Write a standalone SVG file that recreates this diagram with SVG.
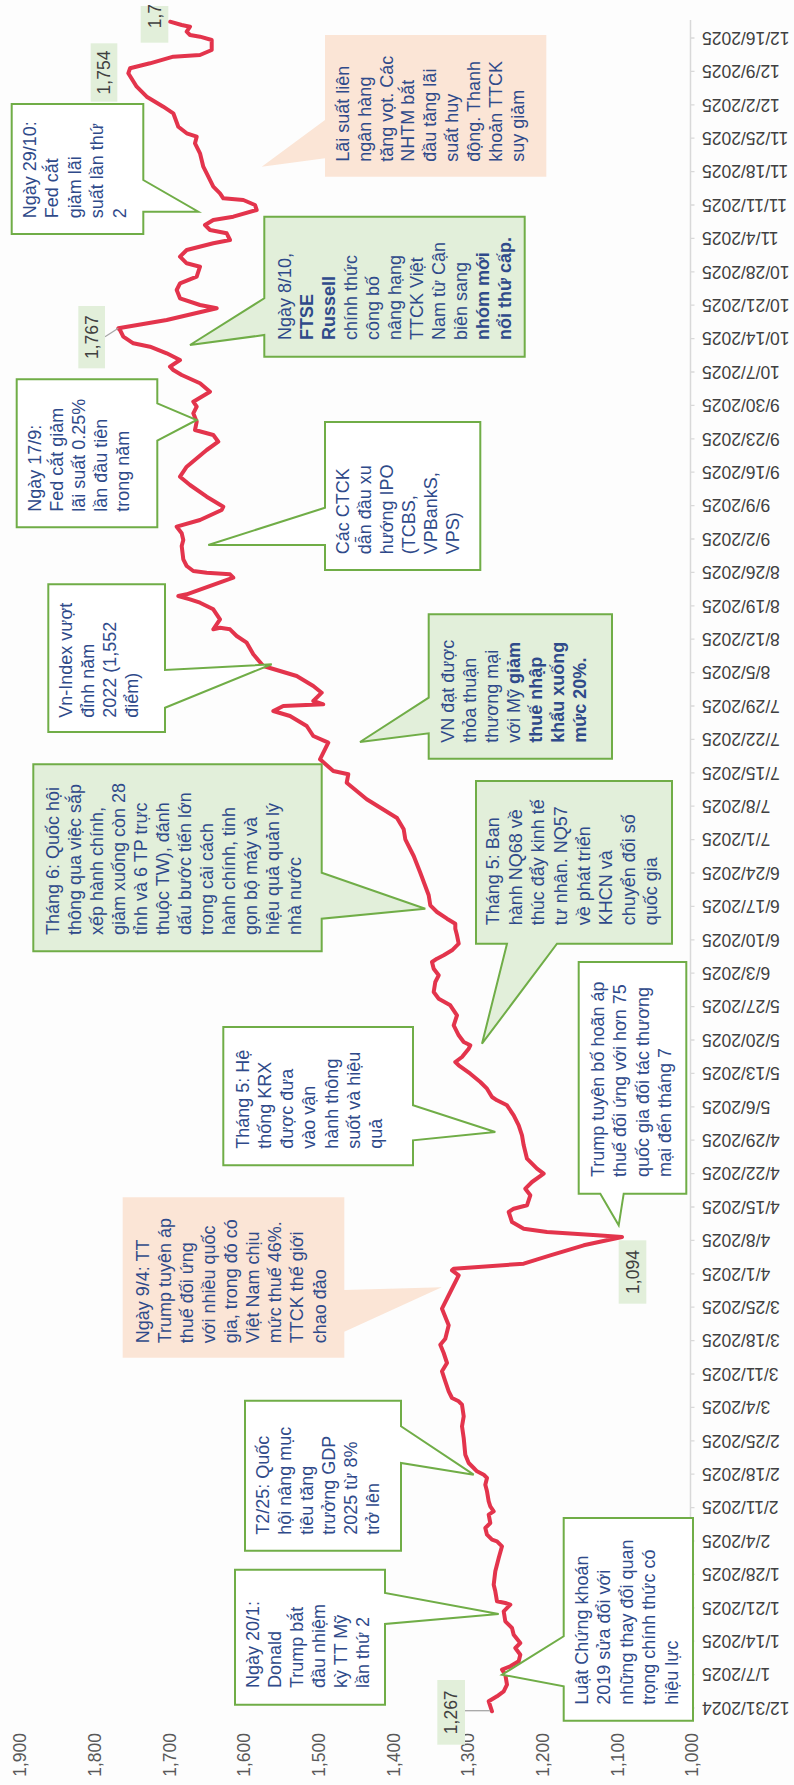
<svg xmlns="http://www.w3.org/2000/svg" width="794" height="1785" viewBox="0 0 794 1785">
<defs>
<style>
.t{font-family:"Liberation Sans",Arial,sans-serif;font-size:18px;fill:#2f4a8a}
.b{font-weight:bold}
.ax{font-family:"Liberation Sans",Arial,sans-serif;font-size:17.5px;fill:#595959}
.dt{font-family:"Liberation Sans",Arial,sans-serif;font-size:17.5px;fill:#404040}
.nl{font-family:"Liberation Sans",Arial,sans-serif;font-size:17.5px;fill:#404040;text-anchor:middle}
.cw{fill:#ffffff;stroke:#70ad47;stroke-width:2}
.cg{fill:#e2efda;stroke:#70ad47;stroke-width:2}
.cp{fill:#fbe5d6;stroke:none}
.lb{fill:#e2efda}
.tick{stroke:#d9d9d9;stroke-width:1.3}
.lead{stroke:#a6a6a6;stroke-width:1.3;fill:none}
</style>
</defs>
<rect x="0" y="0" width="794" height="1785" fill="#fdfdfd"/>

<g id="axes">
<line x1="690.5" y1="20" x2="690.5" y2="1716" stroke="#d9d9d9" stroke-width="1.5"/>
<path class="tick" d="M690.5,1708h4M690.5,1674.6h4M690.5,1641.2h4M690.5,1607.8h4M690.5,1574.4h4M690.5,1541h4M690.5,1507.6h4M690.5,1474.2h4M690.5,1440.8h4M690.5,1407.4h4M690.5,1374h4M690.5,1340.6h4M690.5,1307.2h4M690.5,1273.8h4M690.5,1240.4h4M690.5,1207h4M690.5,1173.6h4M690.5,1140.2h4M690.5,1106.8h4M690.5,1073.4h4M690.5,1040h4M690.5,1006.6h4M690.5,973.2h4M690.5,939.8h4M690.5,906.4h4M690.5,873h4M690.5,839.6h4M690.5,806.2h4M690.5,772.8h4M690.5,739.4h4M690.5,706h4M690.5,672.6h4M690.5,639.2h4M690.5,605.8h4M690.5,572.4h4M690.5,539h4M690.5,505.6h4M690.5,472.2h4M690.5,438.8h4M690.5,405.4h4M690.5,372h4M690.5,338.6h4M690.5,305.2h4M690.5,271.8h4M690.5,238.4h4M690.5,205h4M690.5,171.6h4M690.5,138.2h4M690.5,104.8h4M690.5,71.4h4M690.5,38h4"/>
<g class="dt" text-anchor="end">
<text transform="translate(702,1701.8) rotate(180)">12/31/2024</text>
<text transform="translate(702,1668.4) rotate(180)">1/7/2025</text>
<text transform="translate(702,1635) rotate(180)">1/14/2025</text>
<text transform="translate(702,1601.6) rotate(180)">1/21/2025</text>
<text transform="translate(702,1568.2) rotate(180)">1/28/2025</text>
<text transform="translate(702,1534.8) rotate(180)">2/4/2025</text>
<text transform="translate(702,1501.4) rotate(180)">2/11/2025</text>
<text transform="translate(702,1468) rotate(180)">2/18/2025</text>
<text transform="translate(702,1434.6) rotate(180)">2/25/2025</text>
<text transform="translate(702,1401.2) rotate(180)">3/4/2025</text>
<text transform="translate(702,1367.8) rotate(180)">3/11/2025</text>
<text transform="translate(702,1334.4) rotate(180)">3/18/2025</text>
<text transform="translate(702,1301) rotate(180)">3/25/2025</text>
<text transform="translate(702,1267.6) rotate(180)">4/1/2025</text>
<text transform="translate(702,1234.2) rotate(180)">4/8/2025</text>
<text transform="translate(702,1200.8) rotate(180)">4/15/2025</text>
<text transform="translate(702,1167.4) rotate(180)">4/22/2025</text>
<text transform="translate(702,1134) rotate(180)">4/29/2025</text>
<text transform="translate(702,1100.6) rotate(180)">5/6/2025</text>
<text transform="translate(702,1067.2) rotate(180)">5/13/2025</text>
<text transform="translate(702,1033.8) rotate(180)">5/20/2025</text>
<text transform="translate(702,1000.4) rotate(180)">5/27/2025</text>
<text transform="translate(702,967) rotate(180)">6/3/2025</text>
<text transform="translate(702,933.6) rotate(180)">6/10/2025</text>
<text transform="translate(702,900.2) rotate(180)">6/17/2025</text>
<text transform="translate(702,866.8) rotate(180)">6/24/2025</text>
<text transform="translate(702,833.4) rotate(180)">7/1/2025</text>
<text transform="translate(702,800) rotate(180)">7/8/2025</text>
<text transform="translate(702,766.6) rotate(180)">7/15/2025</text>
<text transform="translate(702,733.2) rotate(180)">7/22/2025</text>
<text transform="translate(702,699.8) rotate(180)">7/29/2025</text>
<text transform="translate(702,666.4) rotate(180)">8/5/2025</text>
<text transform="translate(702,633) rotate(180)">8/12/2025</text>
<text transform="translate(702,599.6) rotate(180)">8/19/2025</text>
<text transform="translate(702,566.2) rotate(180)">8/26/2025</text>
<text transform="translate(702,532.8) rotate(180)">9/2/2025</text>
<text transform="translate(702,499.4) rotate(180)">9/9/2025</text>
<text transform="translate(702,466) rotate(180)">9/16/2025</text>
<text transform="translate(702,432.6) rotate(180)">9/23/2025</text>
<text transform="translate(702,399.2) rotate(180)">9/30/2025</text>
<text transform="translate(702,365.8) rotate(180)">10/7/2025</text>
<text transform="translate(702,332.4) rotate(180)">10/14/2025</text>
<text transform="translate(702,299) rotate(180)">10/21/2025</text>
<text transform="translate(702,265.6) rotate(180)">10/28/2025</text>
<text transform="translate(702,232.2) rotate(180)">11/4/2025</text>
<text transform="translate(702,198.8) rotate(180)">11/11/2025</text>
<text transform="translate(702,165.4) rotate(180)">11/18/2025</text>
<text transform="translate(702,132) rotate(180)">11/25/2025</text>
<text transform="translate(702,98.6) rotate(180)">12/2/2025</text>
<text transform="translate(702,65.2) rotate(180)">12/9/2025</text>
<text transform="translate(702,31.8) rotate(180)">12/16/2025</text>
</g>
<g class="ax" text-anchor="end">
<text transform="translate(26.2,1733) rotate(-90)">1,900</text>
<text transform="translate(100.9,1733) rotate(-90)">1,800</text>
<text transform="translate(175.5,1733) rotate(-90)">1,700</text>
<text transform="translate(250.2,1733) rotate(-90)">1,600</text>
<text transform="translate(324.9,1733) rotate(-90)">1,500</text>
<text transform="translate(399.5,1733) rotate(-90)">1,400</text>
<text transform="translate(474.2,1733) rotate(-90)">1,300</text>
<text transform="translate(548.9,1733) rotate(-90)">1,200</text>
<text transform="translate(623.5,1733) rotate(-90)">1,100</text>
<text transform="translate(698.2,1733) rotate(-90)">1,000</text>
</g>
</g>

<g id="series">
<polyline fill="none" stroke="#e3344c" stroke-width="4" stroke-linejoin="round" stroke-linecap="round" points="492,1711.3 488.7,1701.3 497,1696.3 503.7,1691.3 507,1684.7 505.3,1674.7 502,1669.7 510.3,1666.3 518.7,1661.3 520.3,1654.7 515.3,1648 520.3,1643 513.7,1634.7 512,1628 505.3,1621.3 503.7,1611.3 510.3,1604.7 505.3,1603 497,1601.3 495.3,1591.3 493.7,1584.7 495.3,1571.3 498.7,1558 502,1546.3 497,1541.3 492,1539.7 487,1534.7 485.3,1528 490.3,1523 488.7,1514.7 493.7,1511.3 490.3,1506.3 488.7,1501.3 487,1491.3 485.3,1484.7 487,1478 483.7,1474.7 477,1471.3 473.7,1468 468.7,1463 465.3,1454.7 463.7,1438 462,1426.3 463.7,1416.3 462,1404.7 458.7,1401.3 452,1398 448.7,1391.3 445.3,1381.3 442,1371.3 447,1363 443.7,1353 440.3,1344.7 445.3,1338.7 448.7,1325.3 442,1308.7 450.3,1292 458.7,1275.3 452,1270.3 453.7,1268.7 523.7,1263.7 550.3,1255.3 583.7,1245.3 622,1237 597,1235.3 547,1232 523.7,1228.7 512,1222 508.7,1212 513.7,1208.7 527,1205.3 530.3,1195.3 525.3,1188.7 532,1182 543.7,1173.7 537,1168.7 527,1158.7 523.7,1145.3 522,1135.3 518.7,1125.3 513.7,1115.3 507,1105.3 497,1100.3 492,1097 487,1088.7 480.3,1082 470.3,1073.7 458.7,1065.3 455.3,1062 462,1057 468.7,1048.7 470.3,1045.3 463.7,1042 458.7,1035.3 453.7,1025.3 457,1015.3 450.3,1005.3 438.7,998.7 433.7,992 435.3,982 438.7,975.3 433.7,968.7 432,962 437,958.7 443.7,955.3 452,950.3 458.7,943.7 457,935.3 455.3,928.7 455.3,923.7 447,918.7 437,912 430.3,905.3 428.7,895.3 420.3,872.7 413.7,856 405.3,839.3 403.7,829.3 397,818 366.7,799.3 346.7,782.7 348.3,774.3 333.3,771 320,759.3 328.3,742.7 313.3,736 306.7,726 290,716 273.3,711 283.3,706 323.3,704.3 313.3,701 321.7,692.7 313.3,686 296.7,676 263.3,666 253.3,654.3 246.7,642.7 236.7,636 230,629.3 220,627.7 213.3,629.3 220,619.3 213.3,609.3 200,602.7 190,599.3 178.3,596 186.7,594.3 233.3,577.7 230,574.3 206.7,572.7 193.3,571 186.7,566 183.3,559.3 181.7,546 183.3,540 181.7,533.3 176.7,526.7 200,520 221.7,510 223.3,506.7 206.7,496.7 190,485 180,476.7 186.7,466.7 206.7,450 218.3,441.7 213.3,435 195,430 196.7,421.7 193.3,413.3 196.7,406.7 193.3,401.7 210,391.7 200,383.3 181.7,375 173.3,370 170,366.7 180,360 166.7,353.3 150,346.7 133.3,343.3 123.3,336.7 120,330 118.3,328.3 166.7,320 216.7,308.3 200,305 180,298.3 176.7,290 180,283.3 196.7,276.7 200,266.7 186.7,263.3 180,256.7 186.7,250 213.3,243.3 230,240 226.7,233.3 210,230 205,225 213.3,220 233.3,216.7 256.7,210 255,205 243.3,200 223.3,198.3 220,193.3 213.3,186.7 206.7,173.3 203.3,166.7 200,153.3 195,143.3 196.7,136.7 186.7,133.3 178.3,126.7 173.3,113.3 163.3,106.7 146.7,96.7 136.7,86.7 128.3,73.3 130,68.3 150,63.3 173.3,56.7 200,55 211.7,50 211.7,40 200,36.7 190,35 186.7,31.7 190,26.7 181.7,25 170,21.7"/>
</g>

<g id="connectors">
<line class="lead" x1="105" y1="336.7" x2="118.3" y2="328.3"/>
<line class="lead" x1="465" y1="1710.7" x2="490" y2="1710.7"/>
</g>

<g id="label-1767-top">
<rect class="lb" x="140.7" y="6" width="27.6" height="36.7"/>
<text class="dt" transform="translate(160.7,28.3) rotate(-90)">1,7</text>
</g>
<g id="label-1754">
<rect class="lb" x="90.7" y="43.3" width="26.6" height="58.4"/>
<text class="nl" transform="translate(110.2,72.5) rotate(-90)">1,754</text>
</g>
<g id="label-1767">
<rect class="lb" x="78.3" y="306" width="26.7" height="62.3"/>
<text class="nl" transform="translate(97.9,337.2) rotate(-90)">1,767</text>
</g>
<g id="label-1094">
<rect class="lb" x="618.7" y="1240.3" width="27.6" height="63.4"/>
<text class="nl" transform="translate(638.7,1272) rotate(-90)">1,094</text>
</g>
<g id="label-1267">
<rect class="lb" x="437.3" y="1680" width="27.7" height="64.7"/>
<text class="nl" transform="translate(457.3,1712.3) rotate(-90)">1,267</text>
</g>

<g id="note-laisuat">
<polygon class="cp" points="325,35 546.3,35 546.3,176.7 325,176.7 325,158.3 261.7,166.7 325,120"/>
<g class="t" transform="translate(348.8,161.7) rotate(-90)">
<text x="0" y="0">Lãi suất liên</text>
<text x="0" y="21.9">ngân hàng</text>
<text x="0" y="43.8">tăng vọt. Các</text>
<text x="0" y="65.7">NHTM bắt</text>
<text x="0" y="87.6">đầu tăng lãi</text>
<text x="0" y="109.5">suất huy</text>
<text x="0" y="131.4">động. Thanh</text>
<text x="0" y="153.3">khoản TTCK</text>
<text x="0" y="175.2">suy giảm</text>
</g>
</g>

<g id="note-fed-2910">
<polygon class="cw" points="11.7,104 143.3,104 143.3,180 198.3,211.7 143.3,211.7 143.3,234 11.7,234"/>
<g class="t" transform="translate(35.5,218.3) rotate(-90)">
<text x="0" y="0">Ngày 29/10:</text>
<text x="0" y="22.5">Fed cắt</text>
<text x="0" y="45">giảm lãi</text>
<text x="0" y="67.5">suất lần thứ</text>
<text x="0" y="90">2</text>
</g>
</g>

<g id="note-ftse">
<polygon class="cg" points="264.3,216.7 524.7,216.7 524.7,356.7 264.3,356.7 264.3,335 190,345 264.3,298.3"/>
<g class="t" transform="translate(290.5,340) rotate(-90)">
<text x="0" y="0">Ngày 8/10,</text>
<text x="0" y="22" class="b">FTSE</text>
<text x="0" y="44" class="b">Russell</text>
<text x="0" y="66">chính thức</text>
<text x="0" y="88">công bố</text>
<text x="0" y="110">nâng hạng</text>
<text x="0" y="132">TTCK Việt</text>
<text x="0" y="154">Nam từ Cận</text>
<text x="0" y="176">biên sang</text>
<text x="0" y="198" class="b">nhóm mới</text>
<text x="0" y="220" class="b">nổi thứ cấp.</text>
</g>
</g>

<g id="note-fed-179">
<polygon class="cw" points="16.7,379.3 157.3,379.3 157.3,403.3 196.7,420 157.3,440.7 157.3,527.3 16.7,527.3"/>
<g class="t" transform="translate(40.5,511.7) rotate(-90)">
<text x="0" y="0">Ngày 17/9:</text>
<text x="0" y="22">Fed cắt giảm</text>
<text x="0" y="44">lãi suất 0.25%</text>
<text x="0" y="66">lần đầu tiên</text>
<text x="0" y="88">trong năm</text>
</g>
</g>

<g id="note-ctck">
<polygon class="cw" points="325,422 480.3,422 480.3,570 325,570 325,545 208.3,545 325,507.7"/>
<g class="t" transform="translate(348.8,554.3) rotate(-90)">
<text x="0" y="0">Các CTCK</text>
<text x="0" y="22">dẫn đầu xu</text>
<text x="0" y="44">hướng IPO</text>
<text x="0" y="66">(TCBS,</text>
<text x="0" y="88">VPBankS,</text>
<text x="0" y="110">VPS)</text>
</g>
</g>

<g id="note-vnindex">
<polygon class="cw" points="48.3,584.3 165,584.3 165,670 271.7,664.3 165,707.7 165,732 48.3,732"/>
<g class="t" transform="translate(72.2,717.7) rotate(-90)">
<text x="0" y="0">Vn-Index vượt</text>
<text x="0" y="22">đỉnh năm</text>
<text x="0" y="44">2022 (1,552</text>
<text x="0" y="66">điểm)</text>
</g>
</g>

<g id="note-thuongmai">
<polygon class="cg" points="428.7,614.3 612,614.3 612,758.7 428.7,758.7 428.7,733.3 360,742 428.7,697.7"/>
<g class="t" transform="translate(454.2,742.7) rotate(-90)">
<text x="0" y="0">VN đạt được</text>
<text x="0" y="22">thỏa thuận</text>
<text x="0" y="44">thương mại</text>
<text x="0" y="66">với Mỹ <tspan class="b">giảm</tspan></text>
<text x="0" y="88" class="b">thuế nhập</text>
<text x="0" y="110" class="b">khẩu xuống</text>
<text x="0" y="132" class="b">mức 20%.</text>
</g>
</g>

<g id="note-thang6">
<polygon class="cg" points="33.3,764.3 321.7,764.3 321.7,872.7 425.3,908.7 321.7,918.7 321.7,951.3 33.3,951.3"/>
<g class="t" transform="translate(58.8,935) rotate(-90)">
<text x="0" y="0">Tháng 6: Quốc hội</text>
<text x="0" y="22">thông qua việc sắp</text>
<text x="0" y="44">xếp hành chính,</text>
<text x="0" y="66">giảm xuống còn 28</text>
<text x="0" y="88">tỉnh và 6 TP trực</text>
<text x="0" y="110">thuộc TW), đánh</text>
<text x="0" y="132">dấu bước tiến lớn</text>
<text x="0" y="154">trong cải cách</text>
<text x="0" y="176">hành chính, tinh</text>
<text x="0" y="198">gọn bộ máy và</text>
<text x="0" y="220">hiệu quả quản lý</text>
<text x="0" y="242">nhà nước</text>
</g>
</g>

<g id="note-nq68">
<polygon class="cg" points="476,781 672,781 672,943.7 557,943.7 482,1043.7 507,943.7 476,943.7"/>
<g class="t" transform="translate(499.2,925.3) rotate(-90)">
<text x="0" y="0">Tháng 5: Ban</text>
<text x="0" y="22.6">hành NQ68 về</text>
<text x="0" y="45.2">thúc đẩy kinh tế</text>
<text x="0" y="67.8">tư nhân. NQ57</text>
<text x="0" y="90.4">về phát triển</text>
<text x="0" y="113">KHCN và</text>
<text x="0" y="135.6">chuyển đổi số</text>
<text x="0" y="158.2">quốc gia</text>
</g>
</g>

<g id="note-krx">
<polygon class="cw" points="223.3,1027 413,1027 413,1105.3 495.3,1132 413,1140.3 413,1165.3 223.3,1165.3"/>
<g class="t" transform="translate(248.8,1148.7) rotate(-90)">
<text x="0" y="0">Tháng 5: Hệ</text>
<text x="0" y="22.2">thống KRX</text>
<text x="0" y="44.4">được đưa</text>
<text x="0" y="66.6">vào vận</text>
<text x="0" y="88.8">hành thông</text>
<text x="0" y="111">suốt và hiệu</text>
<text x="0" y="133.2">quả</text>
</g>
</g>

<g id="note-hoanthue">
<polygon class="cw" points="578.7,962 686.3,962 686.3,1193.7 623.7,1193.7 618.7,1225.3 600.3,1193.7 578.7,1193.7"/>
<g class="t" transform="translate(604.2,1177) rotate(-90)">
<text x="0" y="0">Trump tuyên bố hoãn áp</text>
<text x="0" y="22.2">thuế đối ứng với hơn 75</text>
<text x="0" y="44.4">quốc gia đối tác thương</text>
<text x="0" y="66.6">mại đến tháng 7</text>
</g>
</g>

<g id="note-94">
<polygon class="cp" points="122.7,1197.3 344.3,1197.3 344.3,1290 441.7,1287.3 344.3,1331.7 344.3,1357.7 122.7,1357.7"/>
<g class="t" transform="translate(148.8,1343.3) rotate(-90)">
<text x="0" y="0">Ngày 9/4: TT</text>
<text x="0" y="22.1">Trump tuyên áp</text>
<text x="0" y="44.2">thuế đối ứng</text>
<text x="0" y="66.3">với nhiều quốc</text>
<text x="0" y="88.4">gia, trong đó có</text>
<text x="0" y="110.5">Việt Nam chịu</text>
<text x="0" y="132.6">mức thuế 46%.</text>
<text x="0" y="154.7">TTCK thế giới</text>
<text x="0" y="176.8">chao đảo</text>
</g>
</g>

<g id="note-gdp">
<polygon class="cw" points="245,1400.7 401,1400.7 401,1426.3 473.7,1474.7 401,1463 401,1550.7 245,1550.7"/>
<g class="t" transform="translate(268.8,1534.7) rotate(-90)">
<text x="0" y="0">T2/25: Quốc</text>
<text x="0" y="22">hội nâng mục</text>
<text x="0" y="44">tiêu tăng</text>
<text x="0" y="66">trưởng GDP</text>
<text x="0" y="88">2025 từ 8%</text>
<text x="0" y="110">trở lên</text>
</g>
</g>

<g id="note-trump201">
<polygon class="cw" points="235,1569.7 385,1569.7 385,1593 498.7,1614 385,1624 385,1704.7 235,1704.7"/>
<g class="t" transform="translate(258.8,1688) rotate(-90)">
<text x="0" y="0">Ngày 20/1:</text>
<text x="0" y="22">Donald</text>
<text x="0" y="44">Trump bắt</text>
<text x="0" y="66">đầu nhiệm</text>
<text x="0" y="88">kỳ TT Mỹ</text>
<text x="0" y="110">lần thứ 2</text>
</g>
</g>

<g id="note-luat">
<polygon class="cw" points="563.7,1518 693,1518 693,1720.7 563.7,1720.7 563.7,1686.3 502,1674.7 563.7,1636.3"/>
<g class="t" transform="translate(587.5,1704.7) rotate(-90)">
<text x="0" y="0">Luật Chứng khoán</text>
<text x="0" y="22.5">2019 sửa đổi với</text>
<text x="0" y="45">những thay đổi quan</text>
<text x="0" y="67.5">trọng chính thức có</text>
<text x="0" y="90">hiệu lực</text>
</g>
</g>
</svg>
